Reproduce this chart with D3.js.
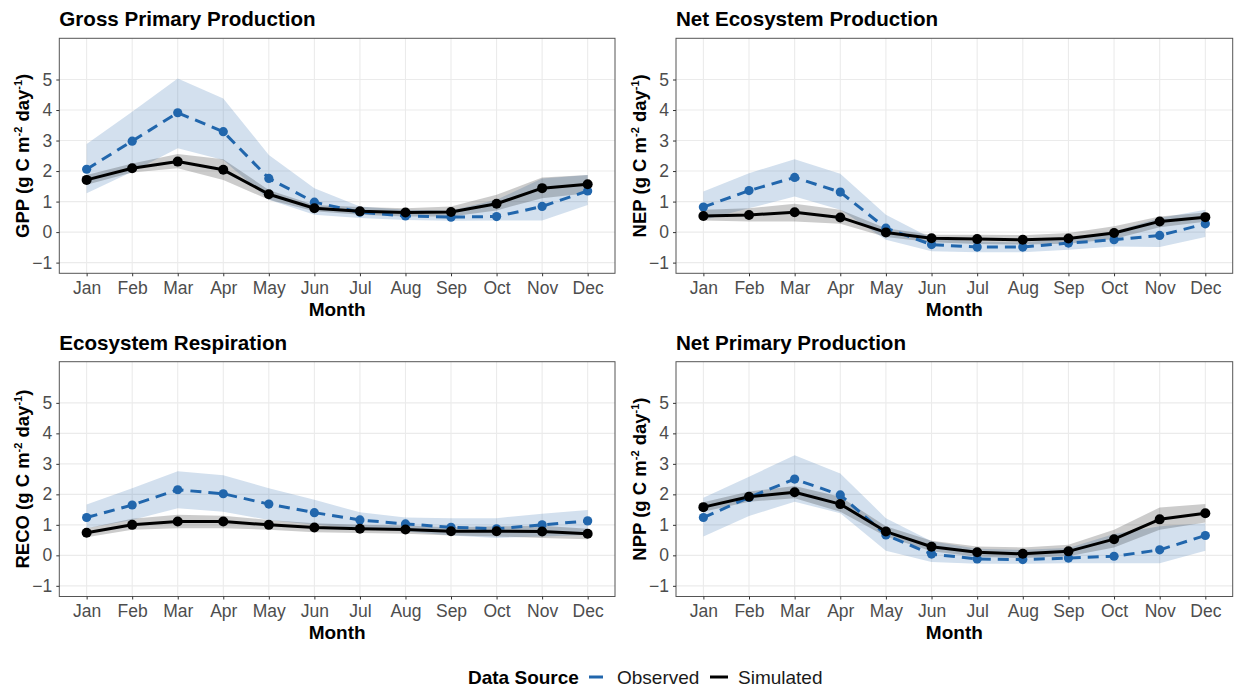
<!DOCTYPE html>
<html>
<head>
<meta charset="utf-8">
<script src="https://cdn.jsdelivr.net/npm/d3@7"></script>
<style>
  html, body { margin: 0; padding: 0; background: #fff; }
  svg { display: block; font-family: "Liberation Sans", Arial, Helvetica, sans-serif; }
</style>
</head>
<body>
<svg id="chart" width="1236" height="689"></svg>
<script>
// ---------------- data ----------------
const months = ["Jan","Feb","Mar","Apr","May","Jun","Jul","Aug","Sep","Oct","Nov","Dec"];
const yTicks = [-1, 0, 1, 2, 3, 4, 5];

// Gross Primary Production
const gppObs   = [2.06, 2.98, 3.91, 3.29, 1.76, 0.98, 0.65, 0.53, 0.49, 0.51, 0.84, 1.35];
const gppObsLo = [1.27, 1.98, 2.75, 2.36, 1.06, 0.57, 0.46, 0.40, 0.37, 0.38, 0.38, 0.89];
const gppObsHi = [2.89, 3.94, 5.03, 4.38, 2.53, 1.44, 0.84, 0.73, 0.71, 1.06, 1.76, 1.87];
const gppSim   = [1.71, 2.09, 2.31, 2.04, 1.24, 0.78, 0.68, 0.64, 0.66, 0.93, 1.44, 1.57];
const gppSimLo = [1.55, 1.95, 2.09, 1.71, 1.06, 0.68, 0.57, 0.51, 0.51, 0.71, 1.11, 1.27];
const gppSimHi = [1.87, 2.25, 2.56, 2.39, 1.38, 0.89, 0.82, 0.78, 0.84, 1.22, 1.79, 1.87];

// Net Ecosystem Production
const nepObs   = [0.82, 1.36, 1.79, 1.31, 0.13, -0.41, -0.49, -0.49, -0.36, -0.25, -0.11, 0.27];
const nepObsLo = [0.40, 0.78, 1.17, 0.73, -0.25, -0.63, -0.66, -0.66, -0.58, -0.47, -0.49, -0.16];
const nepObsHi = [1.33, 1.93, 2.39, 1.91, 0.57, -0.20, -0.31, -0.34, -0.20, 0.02, 0.46, 0.73];
const nepSim   = [0.53, 0.56, 0.65, 0.48, -0.01, -0.20, -0.23, -0.25, -0.21, -0.03, 0.35, 0.49];
const nepSimLo = [0.38, 0.35, 0.35, 0.27, -0.16, -0.33, -0.39, -0.41, -0.38, -0.23, 0.16, 0.34];
const nepSimHi = [0.73, 0.78, 0.93, 0.73, 0.13, -0.09, -0.09, -0.10, -0.03, 0.19, 0.51, 0.64];

// Ecosystem Respiration
const recoObs   = [1.24, 1.65, 2.15, 2.02, 1.68, 1.40, 1.16, 1.03, 0.92, 0.87, 1.00, 1.13];
const recoObsLo = [0.89, 1.16, 1.54, 1.43, 1.16, 1.00, 0.89, 0.78, 0.65, 0.57, 0.62, 0.67];
const recoObsHi = [1.67, 2.20, 2.76, 2.63, 2.20, 1.82, 1.41, 1.24, 1.22, 1.22, 1.36, 1.49];
const recoSim   = [0.74, 1.00, 1.11, 1.11, 1.00, 0.91, 0.87, 0.85, 0.79, 0.79, 0.78, 0.71];
const recoSimLo = [0.59, 0.84, 0.89, 0.89, 0.84, 0.76, 0.73, 0.71, 0.65, 0.62, 0.57, 0.53];
const recoSimHi = [0.89, 1.20, 1.33, 1.30, 1.16, 1.05, 1.00, 0.98, 0.92, 0.95, 0.97, 0.87];

// Net Primary Production
const nppObs   = [1.24, 1.90, 2.50, 1.98, 0.67, 0.04, -0.12, -0.14, -0.09, -0.03, 0.18, 0.65];
const nppObsLo = [0.62, 1.29, 1.76, 1.38, 0.15, -0.22, -0.28, -0.28, -0.26, -0.26, -0.26, 0.15];
const nppObsHi = [1.89, 2.58, 3.28, 2.68, 1.22, 0.46, 0.22, 0.18, 0.24, 0.70, 0.95, 1.05];
const nppSim   = [1.58, 1.92, 2.07, 1.68, 0.78, 0.28, 0.10, 0.05, 0.13, 0.53, 1.18, 1.38];
const nppSimLo = [1.43, 1.76, 1.87, 1.43, 0.62, 0.13, -0.05, -0.09, -0.03, 0.26, 0.84, 1.08];
const nppSimHi = [1.74, 2.09, 2.27, 1.92, 0.95, 0.48, 0.29, 0.26, 0.35, 0.84, 1.57, 1.68];

const panelTitles = ["Gross Primary Production", "Net Ecosystem Production", "Ecosystem Respiration", "Net Primary Production"];
const panelVars = ["GPP", "NEP", "RECO", "NPP"];
const legendTitle = "Data Source";
const seriesNames = ["Observed", "Simulated"];

// ---------------- build ----------------
const panels = [
  {obs: gppObs, obsLo: gppObsLo, obsHi: gppObsHi, sim: gppSim, simLo: gppSimLo, simHi: gppSimHi},
  {obs: nepObs, obsLo: nepObsLo, obsHi: nepObsHi, sim: nepSim, simLo: nepSimLo, simHi: nepSimHi},
  {obs: recoObs, obsLo: recoObsLo, obsHi: recoObsHi, sim: recoSim, simLo: recoSimLo, simHi: recoSimHi},
  {obs: nppObs, obsLo: nppObsLo, obsHi: nppObsHi, sim: nppSim, simLo: nppSimLo, simHi: nppSimHi}
].map((p, i) => Object.assign(p, {title: panelTitles[i], v: panelVars[i], col: i % 2, row: Math.floor(i / 2)}));

const BLUE = "#2166AC";
const colX = [[59.3, 615], [676, 1232.7]];
const rowY = [[38.3, 273.3], [361.7, 596.5]];

const svg = d3.select("#chart");

panels.forEach(p => {
  const [x0, x1] = colX[p.col];
  const [y0, y1] = rowY[p.row];
  const x = d3.scalePoint().domain(months).range([x0, x1]).padding(0.6);
  const y = d3.scaleLinear().domain([-1.35, 6.35]).range([y1, y0]);
  const g = svg.append("g");

  // background + grid
  g.append("rect").attr("x", x0).attr("y", y0).attr("width", x1 - x0).attr("height", y1 - y0).attr("fill", "#fff");
  g.selectAll(".hg").data(yTicks).join("line")
    .attr("x1", x0).attr("x2", x1).attr("y1", d => y(d)).attr("y2", d => y(d))
    .attr("stroke", "#ebebeb").attr("stroke-width", 1.1);
  g.selectAll(".vg").data(months).join("line")
    .attr("x1", d => x(d)).attr("x2", d => x(d)).attr("y1", y0).attr("y2", y1)
    .attr("stroke", "#ebebeb").attr("stroke-width", 1.1);

  const idx = months.map((m, i) => i);
  const area = (lo, hi) => d3.area().x(i => x(months[i])).y0(i => y(lo[i])).y1(i => y(hi[i]));
  const line = (v) => d3.line().x(i => x(months[i])).y(i => y(v[i]));

  g.append("path").attr("d", area(p.obsLo, p.obsHi)(idx)).attr("fill", BLUE).attr("fill-opacity", 0.2);
  g.append("path").attr("d", area(p.simLo, p.simHi)(idx)).attr("fill", "#000").attr("fill-opacity", 0.2);

  g.append("path").attr("d", line(p.obs)(idx)).attr("fill", "none").attr("stroke", BLUE)
    .attr("stroke-width", 3).attr("stroke-dasharray", "11,7");
  g.append("path").attr("d", line(p.sim)(idx)).attr("fill", "none").attr("stroke", "#000")
    .attr("stroke-width", 3).attr("stroke-linejoin", "round");

  g.selectAll(".po").data(idx).join("circle")
    .attr("cx", i => x(months[i])).attr("cy", i => y(p.obs[i])).attr("r", 4.6).attr("fill", BLUE);
  g.selectAll(".ps").data(idx).join("circle")
    .attr("cx", i => x(months[i])).attr("cy", i => y(p.sim[i])).attr("r", 5).attr("fill", "#000");

  // border
  g.append("rect").attr("x", x0).attr("y", y0).attr("width", x1 - x0).attr("height", y1 - y0)
    .attr("fill", "none").attr("stroke", "#555").attr("stroke-width", 1);

  // axes
  const xAxis = d3.axisBottom(x).tickSize(3).tickPadding(4);
  const gx = g.append("g").attr("transform", `translate(0,${y1})`).call(xAxis);
  gx.select(".domain").remove();
  gx.selectAll(".tick line").attr("stroke", "#333");
  gx.selectAll(".tick text").attr("fill", "#4d4d4d").attr("font-size", 17.5)
    .attr("font-family", null).attr("dy", "0.76em");

  const yAxis = d3.axisLeft(y).tickValues(yTicks).tickFormat(d3.format("d")).tickSize(3).tickPadding(4);
  const gy = g.append("g").attr("transform", `translate(${x0},0)`).call(yAxis);
  gy.select(".domain").remove();
  gy.selectAll(".tick line").attr("stroke", "#333");
  gy.selectAll(".tick text").attr("fill", "#4d4d4d").attr("font-size", 17.5).attr("font-family", null);

  // titles
  g.append("text").attr("x", x0).attr("y", y0 - 12).attr("font-size", 20.6).attr("font-weight", "bold")
    .attr("fill", "#000").text(p.title);

  g.append("text").attr("x", (x0 + x1) / 2).attr("y", y1 + 42.5).attr("text-anchor", "middle")
    .attr("font-size", 19).attr("font-weight", "bold").attr("fill", "#000").text("Month");

  const yt = g.append("text").attr("transform", `translate(${x0 - 30.5},${(y0 + y1) / 2}) rotate(-90)`)
    .attr("text-anchor", "middle").attr("font-size", 18.5).attr("font-weight", "bold").attr("fill", "#000");
  yt.append("tspan").text(`${p.v} (g C m`);
  yt.append("tspan").attr("font-size", 11).attr("dy", -7).text("-2");
  yt.append("tspan").attr("dy", 7).text(" day");
  yt.append("tspan").attr("font-size", 11).attr("dy", -7).text("-1");
  yt.append("tspan").attr("dy", 7).text(")");
});

// legend
const lg = svg.append("g");
lg.append("text").attr("x", 468).attr("y", 683.5).attr("font-size", 19).attr("font-weight", "bold")
  .attr("fill", "#000").text(legendTitle);
lg.append("line").attr("x1", 589).attr("x2", 606).attr("y1", 677).attr("y2", 677)
  .attr("stroke", BLUE).attr("stroke-width", 3).attr("stroke-dasharray", "14,7");
lg.append("text").attr("x", 617).attr("y", 683.5).attr("font-size", 19).attr("fill", "#1a1a1a").text(seriesNames[0]);
lg.append("line").attr("x1", 710).attr("x2", 728).attr("y1", 677).attr("y2", 677)
  .attr("stroke", "#000").attr("stroke-width", 3);
lg.append("text").attr("x", 738).attr("y", 683.5).attr("font-size", 19).attr("fill", "#1a1a1a").text(seriesNames[1]);
</script>
</body>
</html>
